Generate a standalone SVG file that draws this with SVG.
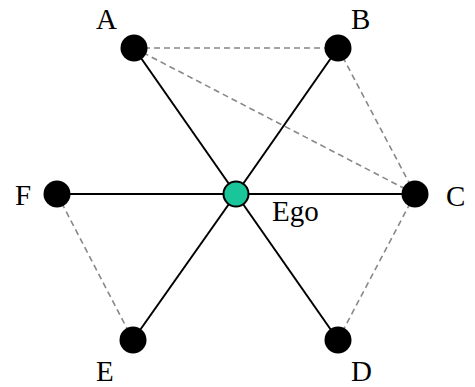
<svg xmlns="http://www.w3.org/2000/svg" width="475" height="387" viewBox="0 0 475 387">
<style>
.s{stroke:#000;stroke-width:2;fill:none}
.d{stroke:#888;stroke-width:1.6;stroke-dasharray:6,4;fill:none}
.n{fill:#000}
.t{font-family:"Liberation Serif","Times New Roman",serif;font-size:29px;fill:#000}
</style>
<g id="connectors">
<line class="d" x1="134" y1="48" x2="338" y2="48"/>
<line class="d" x1="134" y1="48" x2="415" y2="194"/>
<line class="d" x1="338" y1="48" x2="415" y2="194"/>
<line class="d" x1="415" y1="194" x2="338" y2="340"/>
<line class="d" x1="57" y1="194" x2="133" y2="340"/>
<line class="s" x1="236" y1="194" x2="134" y2="48"/>
<line class="s" x1="236" y1="194" x2="338" y2="48"/>
<line class="s" x1="236" y1="194" x2="415" y2="194"/>
<line class="s" x1="236" y1="194" x2="338" y2="340"/>
<line class="s" x1="236" y1="194" x2="133" y2="340"/>
<line class="s" x1="236" y1="194" x2="57" y2="194"/>
</g>
<g id="A"><circle class="n" cx="134" cy="48" r="13.5"/><text class="t" x="96" y="29">A</text></g>
<g id="B"><circle class="n" cx="338" cy="48" r="13.5"/><text class="t" x="351" y="29">B</text></g>
<g id="C"><circle class="n" cx="415" cy="194" r="13.5"/><text class="t" x="446" y="206">C</text></g>
<g id="D"><circle class="n" cx="338" cy="340" r="13.5"/><text class="t" x="351" y="381">D</text></g>
<g id="E"><circle class="n" cx="133" cy="340" r="13.5"/><text class="t" x="96" y="381">E</text></g>
<g id="F"><circle class="n" cx="57" cy="194" r="13.5"/><text class="t" x="15" y="205">F</text></g>
<g id="Ego"><circle cx="236" cy="194" r="12.5" fill="#1ac59a" stroke="#000" stroke-width="2"/><text class="t" x="272" y="221">Ego</text></g>
</svg>
